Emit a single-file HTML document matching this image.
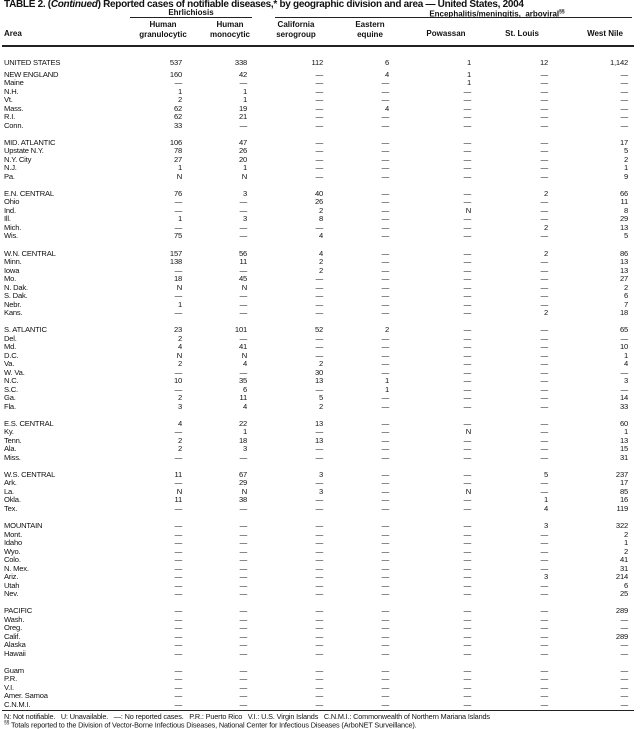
<!DOCTYPE html>
<html><head><meta charset="utf-8"><style>
body{margin:0;background:#fff;width:640px;height:725px;overflow:hidden;position:relative;font-family:"Liberation Sans",Arial,sans-serif;color:#111}
.a{position:absolute;white-space:nowrap}
.t{left:4px;top:-1px;font-size:10px;font-weight:bold;letter-spacing:-0.3px}
.h{font-size:8px;font-weight:bold;text-align:center;line-height:9.5px}
.ln{position:absolute;background:#222}
#rows{position:absolute;left:4px;top:58.7px;font-size:7.6px;letter-spacing:-0.2px}
.r{display:grid;grid-template-columns:126px 52px 65px 76px 66px 82px 77px 80px;height:8.53px;line-height:8.53px}
.r span{text-align:right}
.r span:first-child{text-align:left}
.sp{height:8.53px}
.f{left:4px;font-size:7.3px;letter-spacing:-0.15px}
</style></head><body>
<div class="a t">TABLE 2. (<i>Continued</i>) Reported cases of notifiable diseases,* by geographic division and area — United States, 2004</div>
<div class="a h" style="left:130px;width:122px;top:8px">Ehrlichiosis</div>
<div class="ln" style="left:130px;width:122px;top:17px;height:1px"></div>
<div class="a h" style="left:380px;width:234px;top:8px">Encephalitis/meningitis,&nbsp; arboviral<sup style="font-size:5px">§§</sup></div>
<div class="ln" style="left:275px;width:357px;top:17px;height:1px"></div>
<div class="a h" style="left:4px;top:29px;text-align:left">Area</div>
<div class="a h" style="left:128px;width:70px;top:20px">Human<br>granulocytic</div>
<div class="a h" style="left:195px;width:70px;top:20px">Human<br>monocytic</div>
<div class="a h" style="left:261px;width:70px;top:20px">California<br>serogroup</div>
<div class="a h" style="left:335px;width:70px;top:20px">Eastern<br>equine</div>
<div class="a h" style="left:411px;width:70px;top:29px">Powassan</div>
<div class="a h" style="left:487px;width:70px;top:29px">St. Louis</div>
<div class="a h" style="left:570px;width:70px;top:29px">West Nile</div>
<div class="ln" style="left:2px;width:632px;top:45px;height:1.5px"></div>
<div id="rows">
<div class="r"><span>UNITED STATES</span><span>537</span><span>338</span><span>112</span><span>6</span><span>1</span><span>12</span><span>1,142</span></div>
<div style="height:3.47px"></div>
<div class="r"><span>NEW ENGLAND</span><span>160</span><span>42</span><span>—</span><span>4</span><span>1</span><span>—</span><span>—</span></div>
<div class="r"><span>Maine</span><span>—</span><span>—</span><span>—</span><span>—</span><span>1</span><span>—</span><span>—</span></div>
<div class="r"><span>N.H.</span><span>1</span><span>1</span><span>—</span><span>—</span><span>—</span><span>—</span><span>—</span></div>
<div class="r"><span>Vt.</span><span>2</span><span>1</span><span>—</span><span>—</span><span>—</span><span>—</span><span>—</span></div>
<div class="r"><span>Mass.</span><span>62</span><span>19</span><span>—</span><span>4</span><span>—</span><span>—</span><span>—</span></div>
<div class="r"><span>R.I.</span><span>62</span><span>21</span><span>—</span><span>—</span><span>—</span><span>—</span><span>—</span></div>
<div class="r"><span>Conn.</span><span>33</span><span>—</span><span>—</span><span>—</span><span>—</span><span>—</span><span>—</span></div>
<div class="sp"></div>
<div class="r"><span>MID. ATLANTIC</span><span>106</span><span>47</span><span>—</span><span>—</span><span>—</span><span>—</span><span>17</span></div>
<div class="r"><span>Upstate N.Y.</span><span>78</span><span>26</span><span>—</span><span>—</span><span>—</span><span>—</span><span>5</span></div>
<div class="r"><span>N.Y. City</span><span>27</span><span>20</span><span>—</span><span>—</span><span>—</span><span>—</span><span>2</span></div>
<div class="r"><span>N.J.</span><span>1</span><span>1</span><span>—</span><span>—</span><span>—</span><span>—</span><span>1</span></div>
<div class="r"><span>Pa.</span><span>N</span><span>N</span><span>—</span><span>—</span><span>—</span><span>—</span><span>9</span></div>
<div class="sp"></div>
<div class="r"><span>E.N. CENTRAL</span><span>76</span><span>3</span><span>40</span><span>—</span><span>—</span><span>2</span><span>66</span></div>
<div class="r"><span>Ohio</span><span>—</span><span>—</span><span>26</span><span>—</span><span>—</span><span>—</span><span>11</span></div>
<div class="r"><span>Ind.</span><span>—</span><span>—</span><span>2</span><span>—</span><span>N</span><span>—</span><span>8</span></div>
<div class="r"><span>Ill.</span><span>1</span><span>3</span><span>8</span><span>—</span><span>—</span><span>—</span><span>29</span></div>
<div class="r"><span>Mich.</span><span>—</span><span>—</span><span>—</span><span>—</span><span>—</span><span>2</span><span>13</span></div>
<div class="r"><span>Wis.</span><span>75</span><span>—</span><span>4</span><span>—</span><span>—</span><span>—</span><span>5</span></div>
<div class="sp"></div>
<div class="r"><span>W.N. CENTRAL</span><span>157</span><span>56</span><span>4</span><span>—</span><span>—</span><span>2</span><span>86</span></div>
<div class="r"><span>Minn.</span><span>138</span><span>11</span><span>2</span><span>—</span><span>—</span><span>—</span><span>13</span></div>
<div class="r"><span>Iowa</span><span>—</span><span>—</span><span>2</span><span>—</span><span>—</span><span>—</span><span>13</span></div>
<div class="r"><span>Mo.</span><span>18</span><span>45</span><span>—</span><span>—</span><span>—</span><span>—</span><span>27</span></div>
<div class="r"><span>N. Dak.</span><span>N</span><span>N</span><span>—</span><span>—</span><span>—</span><span>—</span><span>2</span></div>
<div class="r"><span>S. Dak.</span><span>—</span><span>—</span><span>—</span><span>—</span><span>—</span><span>—</span><span>6</span></div>
<div class="r"><span>Nebr.</span><span>1</span><span>—</span><span>—</span><span>—</span><span>—</span><span>—</span><span>7</span></div>
<div class="r"><span>Kans.</span><span>—</span><span>—</span><span>—</span><span>—</span><span>—</span><span>2</span><span>18</span></div>
<div class="sp"></div>
<div class="r"><span>S. ATLANTIC</span><span>23</span><span>101</span><span>52</span><span>2</span><span>—</span><span>—</span><span>65</span></div>
<div class="r"><span>Del.</span><span>2</span><span>—</span><span>—</span><span>—</span><span>—</span><span>—</span><span>—</span></div>
<div class="r"><span>Md.</span><span>4</span><span>41</span><span>—</span><span>—</span><span>—</span><span>—</span><span>10</span></div>
<div class="r"><span>D.C.</span><span>N</span><span>N</span><span>—</span><span>—</span><span>—</span><span>—</span><span>1</span></div>
<div class="r"><span>Va.</span><span>2</span><span>4</span><span>2</span><span>—</span><span>—</span><span>—</span><span>4</span></div>
<div class="r"><span>W. Va.</span><span>—</span><span>—</span><span>30</span><span>—</span><span>—</span><span>—</span><span>—</span></div>
<div class="r"><span>N.C.</span><span>10</span><span>35</span><span>13</span><span>1</span><span>—</span><span>—</span><span>3</span></div>
<div class="r"><span>S.C.</span><span>—</span><span>6</span><span>—</span><span>1</span><span>—</span><span>—</span><span>—</span></div>
<div class="r"><span>Ga.</span><span>2</span><span>11</span><span>5</span><span>—</span><span>—</span><span>—</span><span>14</span></div>
<div class="r"><span>Fla.</span><span>3</span><span>4</span><span>2</span><span>—</span><span>—</span><span>—</span><span>33</span></div>
<div class="sp"></div>
<div class="r"><span>E.S. CENTRAL</span><span>4</span><span>22</span><span>13</span><span>—</span><span>—</span><span>—</span><span>60</span></div>
<div class="r"><span>Ky.</span><span>—</span><span>1</span><span>—</span><span>—</span><span>N</span><span>—</span><span>1</span></div>
<div class="r"><span>Tenn.</span><span>2</span><span>18</span><span>13</span><span>—</span><span>—</span><span>—</span><span>13</span></div>
<div class="r"><span>Ala.</span><span>2</span><span>3</span><span>—</span><span>—</span><span>—</span><span>—</span><span>15</span></div>
<div class="r"><span>Miss.</span><span>—</span><span>—</span><span>—</span><span>—</span><span>—</span><span>—</span><span>31</span></div>
<div class="sp"></div>
<div class="r"><span>W.S. CENTRAL</span><span>11</span><span>67</span><span>3</span><span>—</span><span>—</span><span>5</span><span>237</span></div>
<div class="r"><span>Ark.</span><span>—</span><span>29</span><span>—</span><span>—</span><span>—</span><span>—</span><span>17</span></div>
<div class="r"><span>La.</span><span>N</span><span>N</span><span>3</span><span>—</span><span>N</span><span>—</span><span>85</span></div>
<div class="r"><span>Okla.</span><span>11</span><span>38</span><span>—</span><span>—</span><span>—</span><span>1</span><span>16</span></div>
<div class="r"><span>Tex.</span><span>—</span><span>—</span><span>—</span><span>—</span><span>—</span><span>4</span><span>119</span></div>
<div class="sp"></div>
<div class="r"><span>MOUNTAIN</span><span>—</span><span>—</span><span>—</span><span>—</span><span>—</span><span>3</span><span>322</span></div>
<div class="r"><span>Mont.</span><span>—</span><span>—</span><span>—</span><span>—</span><span>—</span><span>—</span><span>2</span></div>
<div class="r"><span>Idaho</span><span>—</span><span>—</span><span>—</span><span>—</span><span>—</span><span>—</span><span>1</span></div>
<div class="r"><span>Wyo.</span><span>—</span><span>—</span><span>—</span><span>—</span><span>—</span><span>—</span><span>2</span></div>
<div class="r"><span>Colo.</span><span>—</span><span>—</span><span>—</span><span>—</span><span>—</span><span>—</span><span>41</span></div>
<div class="r"><span>N. Mex.</span><span>—</span><span>—</span><span>—</span><span>—</span><span>—</span><span>—</span><span>31</span></div>
<div class="r"><span>Ariz.</span><span>—</span><span>—</span><span>—</span><span>—</span><span>—</span><span>3</span><span>214</span></div>
<div class="r"><span>Utah</span><span>—</span><span>—</span><span>—</span><span>—</span><span>—</span><span>—</span><span>6</span></div>
<div class="r"><span>Nev.</span><span>—</span><span>—</span><span>—</span><span>—</span><span>—</span><span>—</span><span>25</span></div>
<div class="sp"></div>
<div class="r"><span>PACIFIC</span><span>—</span><span>—</span><span>—</span><span>—</span><span>—</span><span>—</span><span>289</span></div>
<div class="r"><span>Wash.</span><span>—</span><span>—</span><span>—</span><span>—</span><span>—</span><span>—</span><span>—</span></div>
<div class="r"><span>Oreg.</span><span>—</span><span>—</span><span>—</span><span>—</span><span>—</span><span>—</span><span>—</span></div>
<div class="r"><span>Calif.</span><span>—</span><span>—</span><span>—</span><span>—</span><span>—</span><span>—</span><span>289</span></div>
<div class="r"><span>Alaska</span><span>—</span><span>—</span><span>—</span><span>—</span><span>—</span><span>—</span><span>—</span></div>
<div class="r"><span>Hawaii</span><span>—</span><span>—</span><span>—</span><span>—</span><span>—</span><span>—</span><span>—</span></div>
<div class="sp"></div>
<div class="r"><span>Guam</span><span>—</span><span>—</span><span>—</span><span>—</span><span>—</span><span>—</span><span>—</span></div>
<div class="r"><span>P.R.</span><span>—</span><span>—</span><span>—</span><span>—</span><span>—</span><span>—</span><span>—</span></div>
<div class="r"><span>V.I.</span><span>—</span><span>—</span><span>—</span><span>—</span><span>—</span><span>—</span><span>—</span></div>
<div class="r"><span>Amer. Samoa</span><span>—</span><span>—</span><span>—</span><span>—</span><span>—</span><span>—</span><span>—</span></div>
<div class="r"><span>C.N.M.I.</span><span>—</span><span>—</span><span>—</span><span>—</span><span>—</span><span>—</span><span>—</span></div>
</div>
<div class="ln" style="left:2px;width:632px;top:710px;height:1.2px"></div>
<div class="a f" style="top:712px">N: Not notifiable.&nbsp;&nbsp; U: Unavailable.&nbsp;&nbsp; —: No reported cases.&nbsp;&nbsp; P.R.: Puerto Rico&nbsp;&nbsp; V.I.: U.S. Virgin Islands&nbsp;&nbsp; C.N.M.I.: Commonwealth of Northern Mariana Islands</div>
<div class="a f" style="top:720px"><sup style="font-size:5px">§§</sup> Totals reported to the Division of Vector-Borne Infectious Diseases, National Center for Infectious Diseases (ArboNET Surveillance).</div>
</body></html>
